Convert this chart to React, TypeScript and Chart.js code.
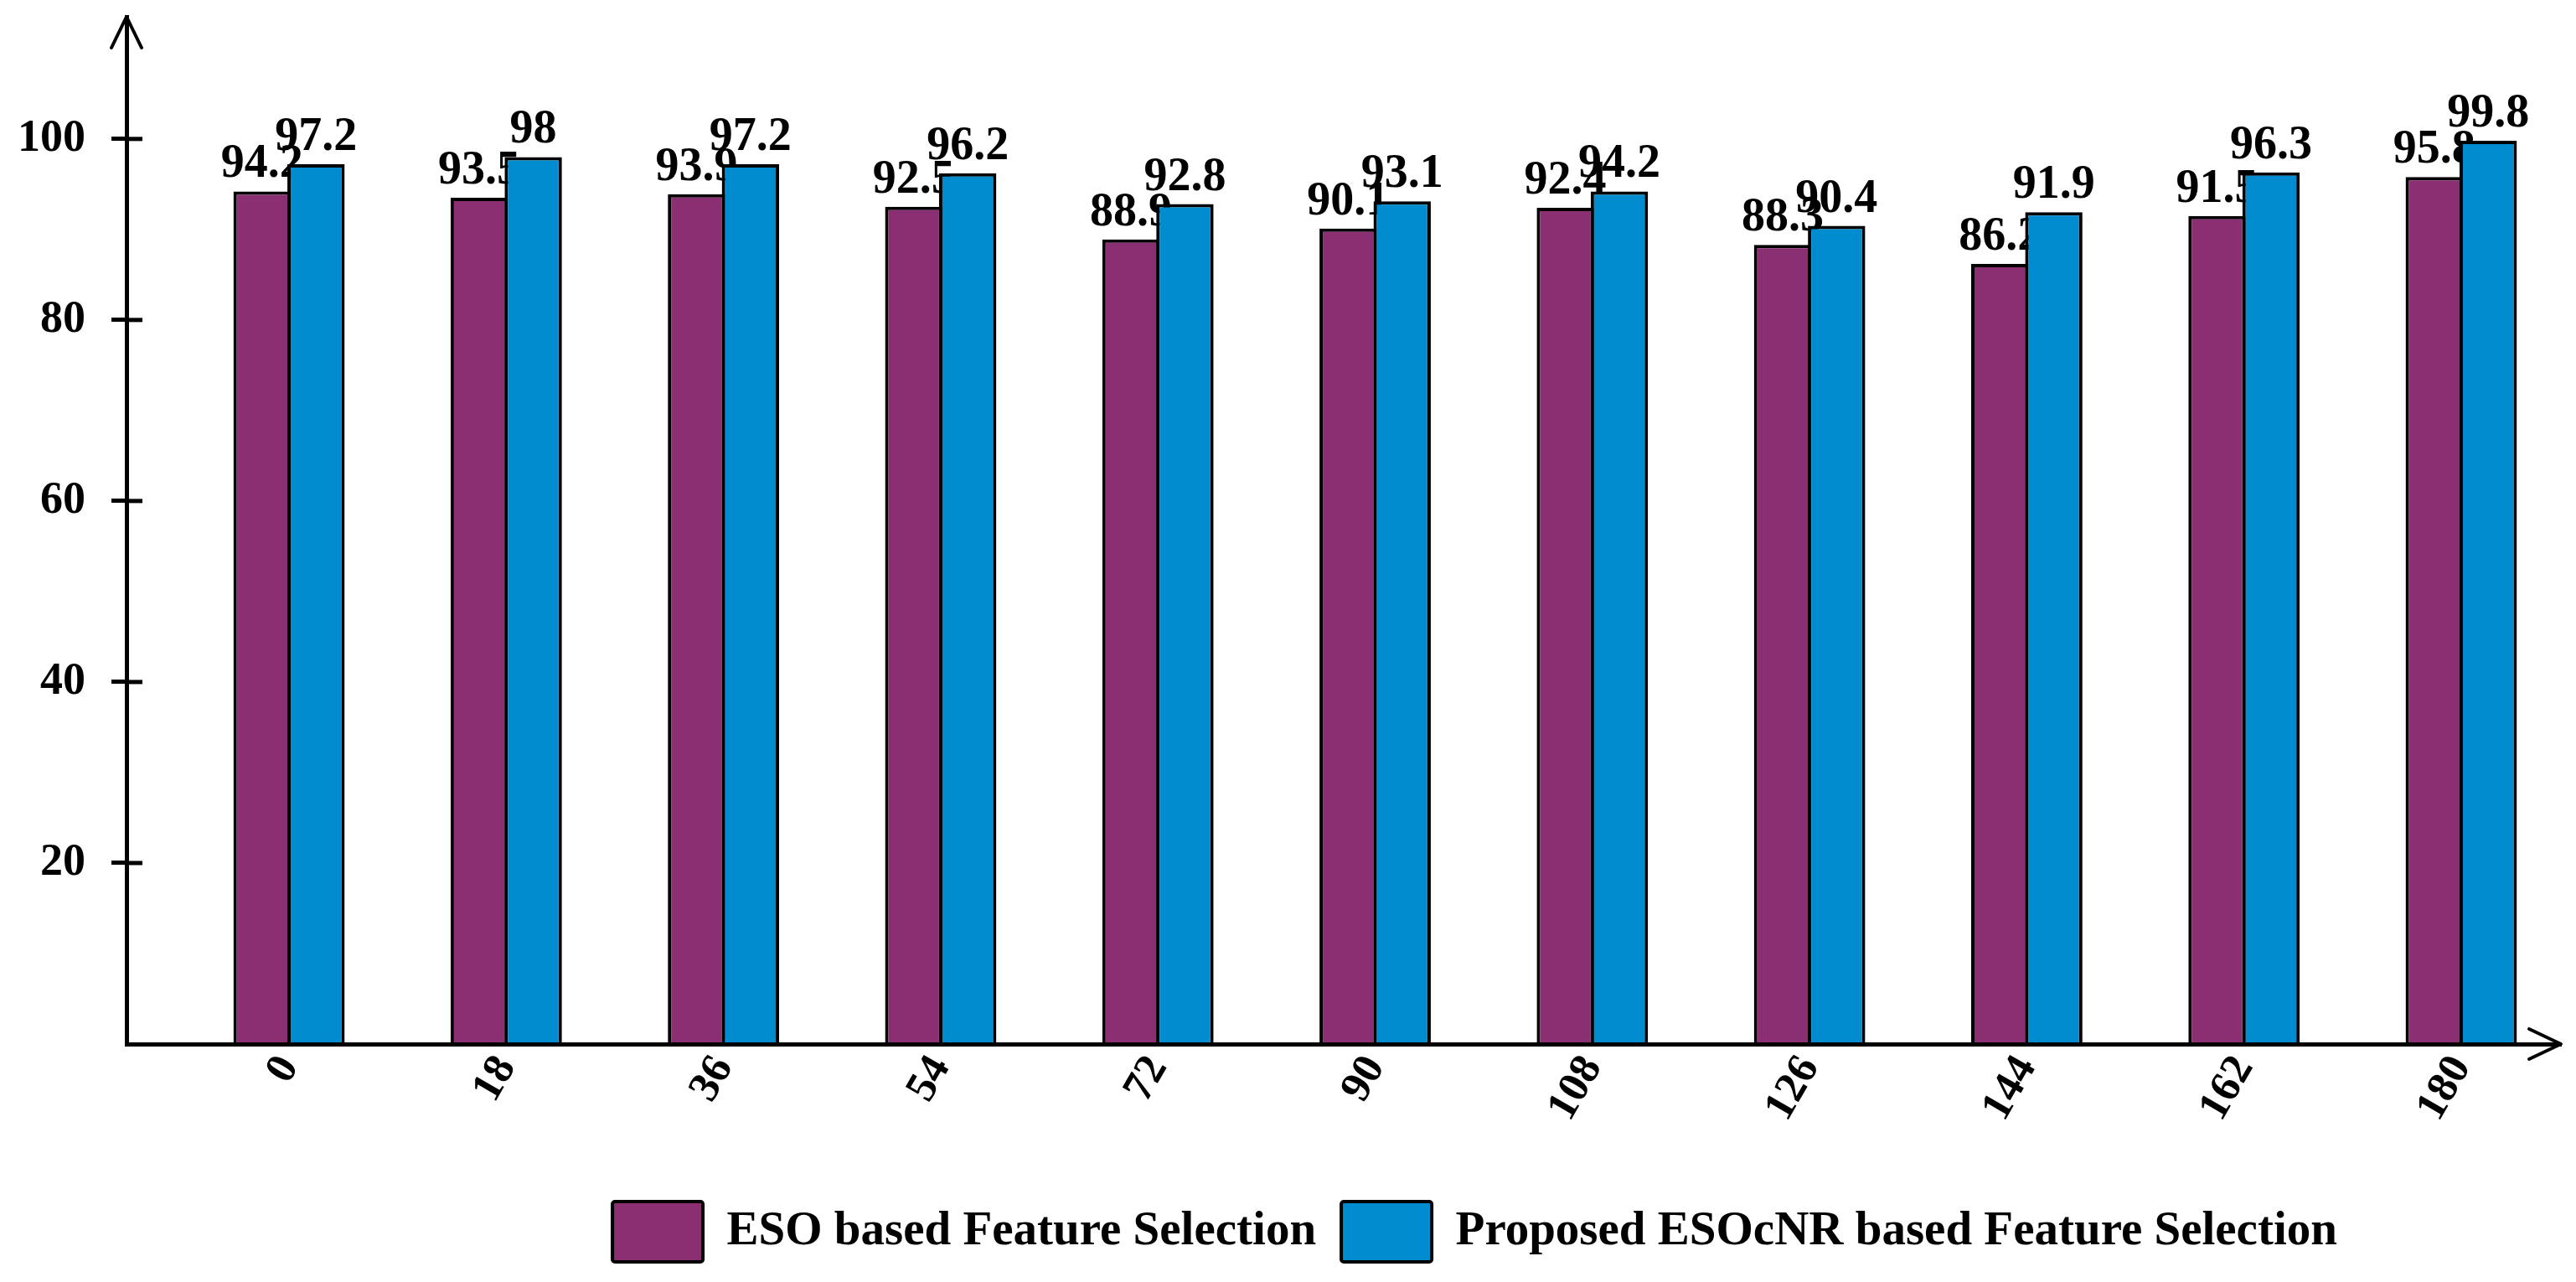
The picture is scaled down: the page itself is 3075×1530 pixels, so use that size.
import React, { useEffect, useRef } from 'react';
import { Chart, registerables } from 'chart.js';

Chart.register(...registerables);

const angles = [0, 18, 36, 54, 72, 90, 108, 126, 144, 162, 180];
const esoValues = [94.2, 93.5, 93.9, 92.5, 88.9, 90.1, 92.4, 88.3, 86.2, 91.5, 95.8];
const esocnrValues = [97.2, 98, 97.2, 96.2, 92.8, 93.1, 94.2, 90.4, 91.9, 96.3, 99.8];
const yTickValues = [20, 40, 60, 80, 100];
const seriesNames = ['ESO based Feature Selection', 'Proposed ESOcNR based Feature Selection'];
const seriesColors = ['#8B2F73', '#008CCE'];

const FONT = '"Liberation Serif", "Times New Roman", Times, serif';
const LEGEND_SHIFT = 228;

// draw datasets in index order (ESO first, then the proposed series on top)
const drawOrder = {
  id: 'drawOrder',
  beforeDatasetsDraw(chart: any) {
    const metas = chart
      .getSortedVisibleDatasetMetas()
      .slice()
      .sort((a: any, b: any) => a.index - b.index);
    metas.forEach((m: any) => chart._drawDataset(m));
    return false;
  },
};

const valueLabels = {
  id: 'valueLabels',
  afterDatasetDraw(chart: any, args: any) {
    const ctx = chart.ctx;
    const ds = chart.data.datasets[args.index];
    ctx.save();
    ctx.font = `bold 56px ${FONT}`;
    ctx.fillStyle = '#000';
    ctx.textAlign = 'center';
    ctx.textBaseline = 'alphabetic';
    args.meta.data.forEach((bar: any, i: number) => {
      const v = ds.data[i].y;
      ctx.fillText(String(v), bar.x, bar.y - 17);
    });
    ctx.restore();
  },
};

const axisDecor = {
  id: 'axisDecor',
  afterDraw(chart: any) {
    const { ctx, chartArea, scales } = chart;
    const y = scales.y;
    ctx.save();
    ctx.strokeStyle = '#000';
    ctx.lineWidth = 5;
    yTickValues.forEach((v) => {
      const py = y.getPixelForValue(v);
      ctx.beginPath();
      ctx.moveTo(chartArea.left, py);
      ctx.lineTo(chartArea.left + 19, py);
      ctx.stroke();
    });
    ctx.lineWidth = 4;
    ctx.lineCap = 'round';
    ctx.lineJoin = 'round';
    const tipX = chartArea.left;
    const tipY = chartArea.top;
    ctx.beginPath();
    ctx.moveTo(tipX - 18, tipY + 37);
    ctx.lineTo(tipX, tipY);
    ctx.lineTo(tipX + 18, tipY + 37);
    ctx.stroke();
    const tx = chartArea.right;
    const ty = chartArea.bottom;
    ctx.beginPath();
    ctx.moveTo(tx - 38, ty - 18);
    ctx.lineTo(tx, ty);
    ctx.lineTo(tx - 38, ty + 18);
    ctx.stroke();
    ctx.restore();
  },
};

const legendShift = {
  id: 'legendShift',
  afterLayout(chart: any) {
    const l = chart.legend;
    if (l) {
      l.left += LEGEND_SHIFT;
      l.right += LEGEND_SHIFT;
    }
  },
};

export default function App() {
  const canvasRef = useRef<HTMLCanvasElement>(null);

  useEffect(() => {
    if (!canvasRef.current) return;
    const chart = new Chart(canvasRef.current, {
      type: 'bar',
      data: {
        datasets: [
          {
            label: seriesNames[0],
            data: angles.map((a, i) => ({ x: a, y: esoValues[i] })),
            backgroundColor: seriesColors[0],
            borderColor: '#000',
            borderWidth: 4,
            borderSkipped: 'start',
          },
          {
            label: seriesNames[1],
            data: angles.map((a, i) => ({ x: a, y: esocnrValues[i] })),
            backgroundColor: seriesColors[1],
            borderColor: '#000',
            borderWidth: 4,
            borderSkipped: 'start',
          },
        ] as any,
      },
      options: {
        responsive: true,
        maintainAspectRatio: false,
        animation: false,
        categoryPercentage: 0.497,
        barPercentage: 1.062,
        layout: { padding: { left: 0, top: 12, right: 10, bottom: 6 } },
        plugins: {
          tooltip: { enabled: false },
          legend: {
            position: 'bottom',
            align: 'center',
            labels: {
              boxWidth: 108,
              boxHeight: 72,
              padding: 30,
              color: '#000',
              font: { family: FONT, size: 57, weight: 'bold' },
              useBorderRadius: true,
              borderRadius: 3,
            },
          },
        },
        scales: {
          x: {
            type: 'linear',
            min: -13.47,
            max: 188.26,
            offset: false,
            grid: { display: false, drawTicks: false, offset: false },
            border: { display: true, color: '#000', width: 5, z: 1 },
            afterBuildTicks: (s: any) => {
              s.ticks = angles.map((v) => ({ value: v }));
            },
            afterFit: (s: any) => {
              s.height = 158;
              s.paddingLeft = 0;
              s.paddingRight = 0;
            },
            ticks: {
              autoSkip: false,
              minRotation: 60,
              maxRotation: 60,
              padding: 4,
              color: '#000',
              font: { family: FONT, size: 52, weight: 'bold' },
              callback: (v: any) => String(v),
            },
          },
          y: {
            type: 'linear',
            min: 0,
            max: 113.5,
            grid: {
              display: true,
              drawOnChartArea: false,
              drawTicks: true,
              tickLength: 18,
              color: '#000',
              lineWidth: 5,
            },
            border: { display: true, color: '#000', width: 5, z: 1 },
            afterBuildTicks: (s: any) => {
              s.ticks = yTickValues.map((v) => ({ value: v }));
            },
            afterFit: (s: any) => {
              s.width = 143;
              s.paddingTop = 0;
              s.paddingBottom = 0;
            },
            ticks: {
              padding: 31,
              color: '#000',
              font: { family: FONT, size: 54, weight: 'bold' },
              callback: (v: any) => String(v),
            },
          },
        },
      } as any,
      plugins: [drawOrder, valueLabels, axisDecor, legendShift],
    });
    return () => chart.destroy();
  }, []);

  return (
    <div style={{ position: 'relative', width: '3059px', height: '1514px' }}>
      <canvas ref={canvasRef} />
    </div>
  );
}
